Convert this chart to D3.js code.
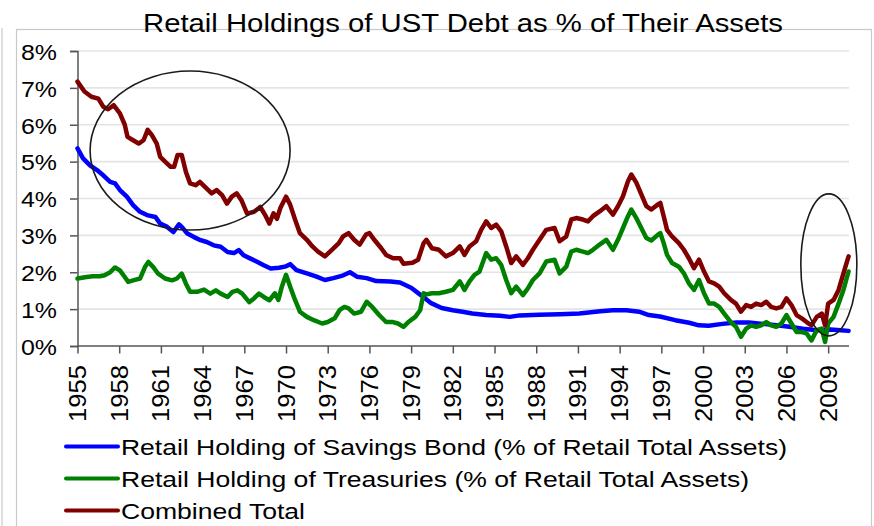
<!DOCTYPE html>
<html>
<head>
<meta charset="utf-8">
<script src="https://cdn.jsdelivr.net/npm/d3@7"></script>
<style>
  html, body { margin: 0; padding: 0; background: #fff; }
  svg { display: block; font-family: "Liberation Sans", Arial, sans-serif; }
</style>
</head>
<body>
<svg id="chart" width="874" height="526"></svg>
<script>
// Retail holding of savings bonds, % of retail total assets: [year, percent]
const savingsBond = [
  [1955.0,5.36],[1955.4,5.09],[1955.9,4.9],[1956.4,4.77],[1956.85,4.63],[1957.35,4.45],
  [1957.7,4.41],[1958.05,4.23],[1958.55,4.05],[1959.0,3.82],[1959.5,3.64],[1960.0,3.55],
  [1960.6,3.5],[1960.95,3.32],[1961.45,3.23],[1961.9,3.09],[1962.3,3.3],[1962.5,3.23],
  [1962.9,3.05],[1963.35,2.96],[1963.85,2.87],[1964.3,2.82],[1964.8,2.73],[1965.3,2.69],
  [1965.8,2.55],[1966.25,2.52],[1966.6,2.6],[1966.95,2.46],[1967.45,2.37],[1967.95,2.28],
  [1968.4,2.19],[1968.9,2.1],[1969.5,2.12],[1970.0,2.16],[1970.3,2.22],[1970.75,2.06],
  [1971.5,1.97],[1972.2,1.88],[1972.8,1.79],[1973.4,1.84],[1974.0,1.9],[1974.6,2.0],
  [1975.1,1.88],[1975.8,1.84],[1976.5,1.76],[1977.5,1.75],[1978.2,1.72],[1979.0,1.58],
  [1979.7,1.38],[1980.4,1.17],[1981.2,1.03],[1982.0,0.97],[1982.7,0.93],[1983.4,0.88],
  [1984.4,0.84],[1985.4,0.82],[1986.1,0.79],[1986.8,0.83],[1988.2,0.85],[1989.7,0.86],
  [1991.1,0.88],[1992.6,0.94],[1993.5,0.97],[1994.5,0.97],[1995.4,0.93],[1996.1,0.84],
  [1996.9,0.8],[1998.0,0.7],[1999.0,0.63],[1999.7,0.56],[2000.4,0.55],[2001.4,0.6],
  [2002.4,0.64],[2003.3,0.64],[2004.3,0.6],[2005.3,0.56],[2006.2,0.52],[2007.2,0.47],
  [2008.2,0.43],[2009.15,0.45],[2009.9,0.43],[2010.47,0.41]
];

// Retail holding of Treasuries, % of retail total assets
const treasuries = [
  [1955.0,1.83],[1955.65,1.87],[1956.1,1.89],[1956.6,1.89],[1956.95,1.92],[1957.35,2.0],
  [1957.7,2.13],[1958.05,2.05],[1958.4,1.87],[1958.65,1.74],[1959.0,1.78],[1959.5,1.83],
  [1959.85,2.14],[1960.1,2.28],[1960.45,2.14],[1960.8,1.96],[1961.3,1.83],[1961.8,1.78],
  [1962.15,1.83],[1962.5,1.96],[1962.8,1.69],[1963.1,1.47],[1963.6,1.47],[1964.1,1.53],
  [1964.55,1.42],[1964.95,1.51],[1965.3,1.42],[1965.8,1.33],[1966.15,1.47],[1966.5,1.51],
  [1966.85,1.42],[1967.35,1.19],[1967.7,1.29],[1968.05,1.42],[1968.4,1.33],[1968.8,1.24],
  [1969.2,1.43],[1969.45,1.25],[1969.7,1.61],[1970.0,1.93],[1970.3,1.61],[1970.65,1.25],
  [1971.0,0.93],[1971.5,0.79],[1972.0,0.7],[1972.6,0.61],[1973.0,0.65],[1973.5,0.75],
  [1973.85,0.97],[1974.2,1.06],[1974.5,1.02],[1974.9,0.88],[1975.4,0.93],[1975.8,1.2],
  [1976.2,1.06],[1976.7,0.84],[1977.2,0.65],[1977.7,0.65],[1978.05,0.61],[1978.45,0.52],
  [1978.8,0.65],[1979.3,0.79],[1979.65,0.97],[1979.9,1.43],[1980.1,1.4],[1980.5,1.43],
  [1981.0,1.43],[1981.5,1.47],[1982.0,1.52],[1982.5,1.75],[1982.84,1.52],[1983.2,1.75],
  [1983.56,1.93],[1983.92,2.02],[1984.4,2.52],[1984.76,2.34],[1985.12,2.38],[1985.48,2.2],
  [1985.84,1.79],[1986.2,1.43],[1986.56,1.61],[1987.04,1.38],[1987.4,1.56],[1987.76,1.79],
  [1988.24,1.97],[1988.72,2.29],[1989.32,2.34],[1989.68,1.97],[1990.16,2.15],[1990.52,2.56],
  [1990.88,2.61],[1991.36,2.56],[1991.72,2.52],[1992.08,2.61],[1992.56,2.75],[1993.04,2.88],
  [1993.52,2.61],[1993.88,2.88],[1994.24,3.2],[1994.6,3.52],[1994.84,3.7],[1995.2,3.47],
  [1995.56,3.2],[1995.92,2.93],[1996.28,2.86],[1996.76,3.02],[1996.93,3.06],[1997.17,2.79],
  [1997.41,2.47],[1997.77,2.25],[1998.26,2.15],[1998.62,1.97],[1998.98,1.7],[1999.35,1.52],
  [1999.71,1.79],[2000.07,1.43],[2000.43,1.15],[2000.8,1.15],[2001.16,1.06],[2001.52,0.88],
  [2002.0,0.65],[2002.37,0.52],[2002.73,0.25],[2003.1,0.47],[2003.46,0.56],[2003.82,0.52],
  [2004.18,0.56],[2004.55,0.65],[2004.9,0.56],[2005.27,0.52],[2005.64,0.61],[2006.0,0.84],
  [2006.36,0.61],[2006.73,0.38],[2007.1,0.38],[2007.45,0.34],[2007.8,0.15],[2008.18,0.43],
  [2008.54,0.47],[2008.78,0.11],[2009.0,0.61],[2009.39,0.79],[2009.75,1.15],[2010.1,1.52],
  [2010.47,2.02]
];

// Combined total of both holdings
const combinedTotal = [
  [1955.0,7.17],[1955.5,6.9],[1956.0,6.76],[1956.5,6.71],[1956.85,6.49],[1957.2,6.42],
  [1957.6,6.53],[1958.05,6.31],[1958.4,6.0],[1958.6,5.67],[1959.0,5.58],[1959.4,5.49],
  [1959.75,5.58],[1960.05,5.86],[1960.35,5.72],[1960.7,5.49],[1960.95,5.13],[1961.3,5.0],
  [1961.7,4.86],[1961.95,4.86],[1962.2,5.18],[1962.5,5.18],[1962.8,4.72],[1963.1,4.41],
  [1963.5,4.36],[1963.8,4.45],[1964.3,4.27],[1964.65,4.14],[1965.0,4.23],[1965.4,4.09],
  [1965.75,3.86],[1966.1,4.05],[1966.45,4.14],[1966.8,3.95],[1967.2,3.59],[1967.7,3.64],
  [1968.15,3.77],[1968.5,3.55],[1968.8,3.32],[1969.1,3.6],[1969.35,3.45],[1969.6,3.75],
  [1970.0,4.05],[1970.29,3.84],[1970.65,3.43],[1971.0,3.06],[1971.5,2.88],[1971.9,2.7],
  [1972.3,2.56],[1972.8,2.43],[1973.3,2.61],[1973.8,2.79],[1974.1,2.97],[1974.5,3.06],
  [1974.9,2.88],[1975.3,2.75],[1975.75,3.02],[1976.0,3.06],[1976.35,2.88],[1976.85,2.65],
  [1977.2,2.47],[1977.7,2.38],[1978.2,2.38],[1978.45,2.23],[1979.1,2.26],[1979.5,2.34],
  [1979.9,2.79],[1980.1,2.88],[1980.5,2.65],[1981.0,2.61],[1981.5,2.43],[1982.0,2.52],
  [1982.5,2.7],[1982.84,2.47],[1983.2,2.7],[1983.68,2.84],[1984.04,3.15],[1984.4,3.38],
  [1984.76,3.2],[1985.12,3.29],[1985.48,3.11],[1985.84,2.7],[1986.2,2.25],[1986.56,2.43],
  [1987.04,2.2],[1987.4,2.38],[1987.76,2.61],[1988.24,2.88],[1988.72,3.15],[1989.32,3.2],
  [1989.68,2.84],[1990.16,2.97],[1990.52,3.43],[1990.88,3.47],[1991.36,3.43],[1991.72,3.38],
  [1992.08,3.52],[1992.56,3.65],[1993.04,3.79],[1993.52,3.56],[1993.88,3.79],[1994.24,4.06],
  [1994.6,4.47],[1994.84,4.65],[1995.2,4.43],[1995.56,4.11],[1995.92,3.79],[1996.28,3.7],
  [1996.76,3.84],[1996.93,3.88],[1997.17,3.52],[1997.41,3.15],[1997.77,2.97],[1998.26,2.79],
  [1998.62,2.61],[1998.98,2.38],[1999.35,2.11],[1999.71,2.34],[2000.07,2.02],[2000.43,1.75],
  [2000.8,1.7],[2001.16,1.61],[2001.52,1.43],[2002.0,1.25],[2002.37,1.15],[2002.73,0.93],
  [2003.1,1.11],[2003.46,1.06],[2003.82,1.15],[2004.18,1.11],[2004.55,1.2],[2004.9,1.06],
  [2005.27,1.02],[2005.64,1.06],[2006.0,1.29],[2006.36,1.11],[2006.73,0.84],[2007.1,0.75],
  [2007.45,0.65],[2007.8,0.56],[2008.18,0.79],[2008.54,0.88],[2008.78,0.56],[2009.0,1.15],
  [2009.39,1.25],[2009.75,1.52],[2010.1,1.97],[2010.47,2.43]
];

const yearTicks = d3.range(1955, 2010, 3);
const percentTicks = d3.range(0, 9, 1);

const seriesNames = [
  "Retail Holding of Savings Bond (% of Retail Total Assets)",
  "Retail Holding of Treasuries (% of Retail Total Assets)",
  "Combined Total"
];
const seriesColors = ["#0000ff", "#008000", "#800000"];
const seriesData = [savingsBond, treasuries, combinedTotal];

const titleText = "Retail Holdings of UST Debt as % of Their Assets";

const svg = d3.select("#chart");

// outer frame
svg.append("line").attr("x1", 2).attr("x2", 2).attr("y1", 28).attr("y2", 526)
  .attr("stroke", "#d4d4d4").attr("stroke-width", 1.5);
svg.append("rect").attr("x", 16.5).attr("y", 29.5).attr("width", 855).attr("height", 520)
  .attr("fill", "none").attr("stroke", "#c8c8c8").attr("stroke-width", 1.2);

// title
svg.append("text").attr("x", 143).attr("y", 32)
  .attr("font-size", 25.5).attr("fill", "#000")
  .attr("textLength", 640).attr("lengthAdjust", "spacingAndGlyphs")
  .text(titleText);

const x = d3.scaleLinear().domain([1955, 2010.5]).range([77.5, 849]);
const y = d3.scaleLinear().domain([0, 8]).range([346, 51]);

// horizontal gridlines
svg.append("g").selectAll("line").data(percentTicks.filter(d => d > 0)).join("line")
  .attr("x1", x(1955)).attr("x2", x(2010.5))
  .attr("y1", d => y(d)).attr("y2", d => y(d))
  .attr("stroke", "#e4e4e4").attr("stroke-width", 1.6);

// y axis
const yAxis = svg.append("g").attr("transform", `translate(${x(1955)},0)`)
  .call(d3.axisLeft(y).tickValues(percentTicks).tickSize(7.5).tickPadding(0).tickFormat(d => d + "%"));
yAxis.select(".domain").attr("stroke", "#555").attr("stroke-width", 1.5);
yAxis.selectAll(".tick line").attr("stroke", "#555").attr("stroke-width", 1.5);
yAxis.selectAll(".tick text")
  .attr("x", -20.5).attr("dy", null).attr("y", 8.3)
  .attr("font-size", 22.5).attr("fill", "#000")
  .attr("font-family", "'Liberation Sans', Arial, sans-serif")
  .attr("textLength", 36).attr("lengthAdjust", "spacingAndGlyphs");

// x axis
const xAxis = svg.append("g").attr("transform", `translate(0,${y(0)})`)
  .call(d3.axisBottom(x).tickValues(yearTicks).tickSize(7.5).tickFormat(d3.format("d")));
xAxis.select(".domain").attr("stroke", "#555").attr("stroke-width", 1.5)
  .attr("d", `M${x(1955)},0H${x(2010.5)}`);
xAxis.selectAll(".tick line").attr("stroke", "#555").attr("stroke-width", 1.5);
xAxis.selectAll(".tick text")
  .attr("y", null).attr("dy", null)
  .attr("transform", "translate(8,19) rotate(-90)")
  .attr("text-anchor", "end")
  .attr("font-size", 24).attr("fill", "#000")
  .attr("font-family", "'Liberation Sans', Arial, sans-serif")
  .attr("textLength", 57).attr("lengthAdjust", "spacingAndGlyphs");

// series lines
const line = d3.line().x(d => x(d[0])).y(d => y(d[1]));
svg.append("g").selectAll("path").data(seriesData).join("path")
  .attr("d", line)
  .attr("fill", "none")
  .attr("stroke", (d, i) => seriesColors[i])
  .attr("stroke-width", 4.5)
  .attr("stroke-linejoin", "round")
  .attr("stroke-linecap", "round");

// highlight ellipses
const ellipses = [
  { year: 1963.1, pct: 5.3, rx: 100, ry: 79.5 },
  { year: 2009.05, pct: 2.2, rx: 28, ry: 71 }
];
svg.append("g").selectAll("ellipse").data(ellipses).join("ellipse")
  .attr("cx", d => x(d.year)).attr("cy", d => y(d.pct))
  .attr("rx", d => d.rx).attr("ry", d => d.ry)
  .attr("fill", "none").attr("stroke", "#1a1a1a").attr("stroke-width", 1.6);

// legend
const legendLengths = [666, 628, 184];
const legend = svg.append("g").selectAll("g").data(seriesNames).join("g")
  .attr("transform", (d, i) => `translate(66,${446.5 + i * 32})`);
legend.append("line").attr("x1", 0).attr("x2", 52).attr("y1", 0).attr("y2", 0)
  .attr("stroke", (d, i) => seriesColors[i]).attr("stroke-width", 4)
  .attr("stroke-linecap", "round");
legend.append("text").attr("x", 55).attr("y", 8.5)
  .attr("font-size", 21.5).attr("fill", "#000")
  .attr("textLength", (d, i) => legendLengths[i]).attr("lengthAdjust", "spacingAndGlyphs")
  .text(d => d);
</script>
</body>
</html>
